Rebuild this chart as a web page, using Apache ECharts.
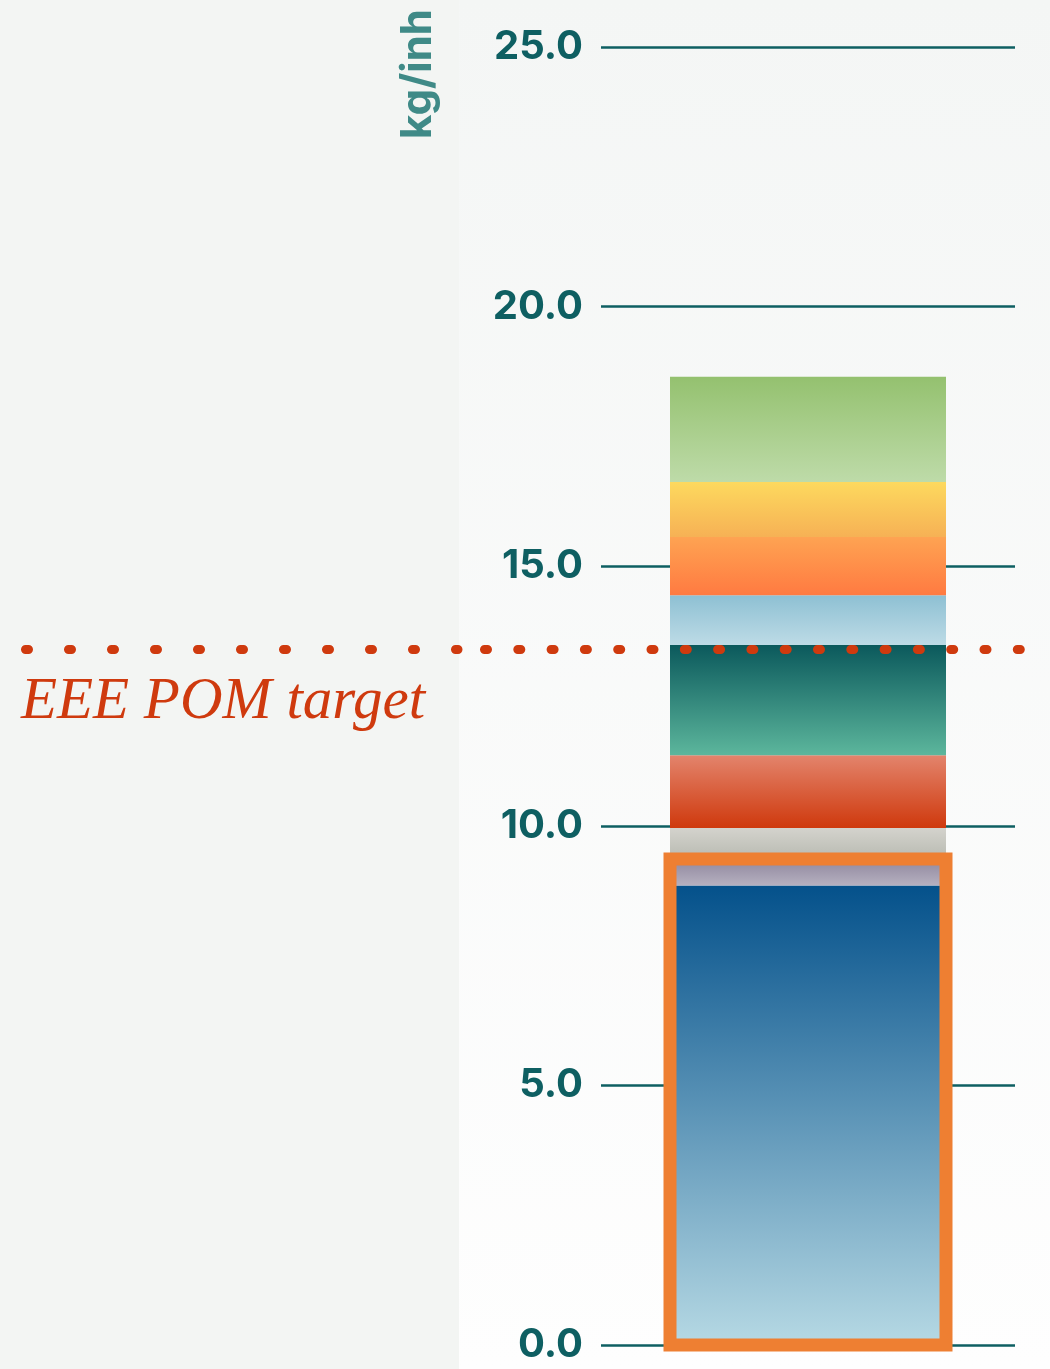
<!DOCTYPE html>
<html>
<head>
<meta charset="utf-8">
<script src="https://cdn.jsdelivr.net/npm/echarts@6/dist/echarts.min.js"></script>
<style>
  html, body { margin: 0; padding: 0; background: #f3f5f3; }
  #chart { width: 1050px; height: 1369px; }
</style>
</head>
<body>
<div id="chart"></div>
<script>
// ---- data ----
const categories = ['EEE'];
const segmentNames = ['Segment A', 'Segment B', 'Segment C', 'Segment D', 'Segment E', 'Segment F', 'Segment G', 'Segment H', 'Segment I'];
const segmentValues = [8.85, 0.51, 0.60, 1.40, 2.12, 0.96, 1.12, 1.06, 2.03];
const highlightedSegments = [0, 1];           // outlined with the orange box
const targetValue = [13.4];
const yTicks = [0, 5, 10, 15, 20, 25];
const axisUnit = 'kg/inh';
const targetLabel = 'EEE POM target';

// ---- styles ----
const segmentGradients = [
  ['#04518b', '#b6d9e4'],
  ['#8f879d', '#b6b0c0'],
  ['#d4d3cd', '#b8bab1'],
  ['#e3846c', '#cf390d'],
  ['#0b595c', '#5cb69c'],
  ['#8ec0d3', '#bddbe6'],
  ['#fea352', '#ff7a41'],
  ['#fdd95e', '#f6b155'],
  ['#94c16f', '#bedba9']
];
const teal = '#0e5f62';
const red = '#cf3a0e';
const BAR_W = 276;

const chart = echarts.init(document.getElementById('chart'), null, { renderer: 'canvas' });

const series = segmentValues.map((v, i) => ({
  name: segmentNames[i],
  type: 'bar',
  stack: 'total',
  barWidth: BAR_W,
  data: [v],
  itemStyle: {
    color: new echarts.graphic.LinearGradient(0, 0, 0, 1, [
      { offset: 0, color: segmentGradients[i][0] },
      { offset: 1, color: segmentGradients[i][1] }
    ])
  },
  emphasis: { disabled: true },
  silent: true
}));

const highlightTotal = highlightedSegments.reduce((s, i) => s + segmentValues[i], 0);

series.push({
  name: 'highlight',
  type: 'custom',
  z: 5,
  clip: false,
  silent: true,
  data: [[0, highlightTotal]],
  renderItem: function (params, api) {
    const top = api.coord([api.value(0), api.value(1)]);
    const base = api.coord([api.value(0), 0]);
    return {
      type: 'rect',
      shape: { x: top[0] - BAR_W / 2, y: top[1], width: BAR_W, height: base[1] - top[1] },
      style: { fill: 'none', stroke: '#ee7f32', lineWidth: 13 }
    };
  },
  markLine: {
    silent: true,
    symbol: 'none',
    label: { show: false },
    z: 6,
    data: [
      [
        { x: 25.5, yAxis: targetValue[0], lineStyle: { color: red, width: 9, type: [3, 40], cap: 'round' } },
        { x: 458, yAxis: targetValue[0] }
      ],
      [
        { x: 484.5, yAxis: targetValue[0], lineStyle: { color: red, width: 9, type: [3, 30.3], cap: 'round' } },
        { x: 1050, yAxis: targetValue[0] }
      ]
    ]
  }
});

chart.setOption({
  animation: false,
  backgroundColor: 'transparent',
  graphic: [
    { type: 'rect', z: -10, silent: true, shape: { x: 0, y: 0, width: 459, height: 1369 }, style: { fill: '#f3f5f3' } },
    { type: 'rect', z: -10, silent: true, shape: { x: 459, y: 0, width: 591, height: 1369 },
      style: { fill: new echarts.graphic.LinearGradient(0, 0, 0, 1, [
        { offset: 0, color: '#f4f6f5' }, { offset: 1, color: '#fefefe' }]) } },
    { type: 'text', z: 10, silent: true, x: 418, y: 74, rotation: Math.PI / 2,
      style: { text: axisUnit, fill: '#3f8a87', font: 'bold 42px Inter, "Noto Sans", sans-serif', align: 'center', verticalAlign: 'middle' } },
    { type: 'text', z: 10, silent: true, x: 21, y: 702,
      style: { text: targetLabel, fill: red, font: 'italic 59px "Liberation Serif", serif', align: 'left', verticalAlign: 'middle' } }
  ],
  grid: { left: 601, right: 35, top: 47, bottom: 24, containLabel: false },
  xAxis: {
    type: 'category',
    data: categories,
    axisLine: { show: false },
    axisTick: { show: false },
    axisLabel: { show: false },
    splitLine: { show: false }
  },
  yAxis: {
    type: 'value',
    min: yTicks[0],
    max: yTicks[yTicks.length - 1],
    interval: yTicks[1] - yTicks[0],
    axisLine: { show: false },
    axisTick: { show: false },
    axisLabel: {
      color: teal,
      fontFamily: 'Inter',
      fontWeight: 'bold',
      fontSize: 40,
      margin: 18,
      formatter: v => v.toFixed(1)
    },
    splitLine: { show: true, lineStyle: { color: teal, width: 2.5 } }
  },
  series: series
});
</script>
</body>
</html>
